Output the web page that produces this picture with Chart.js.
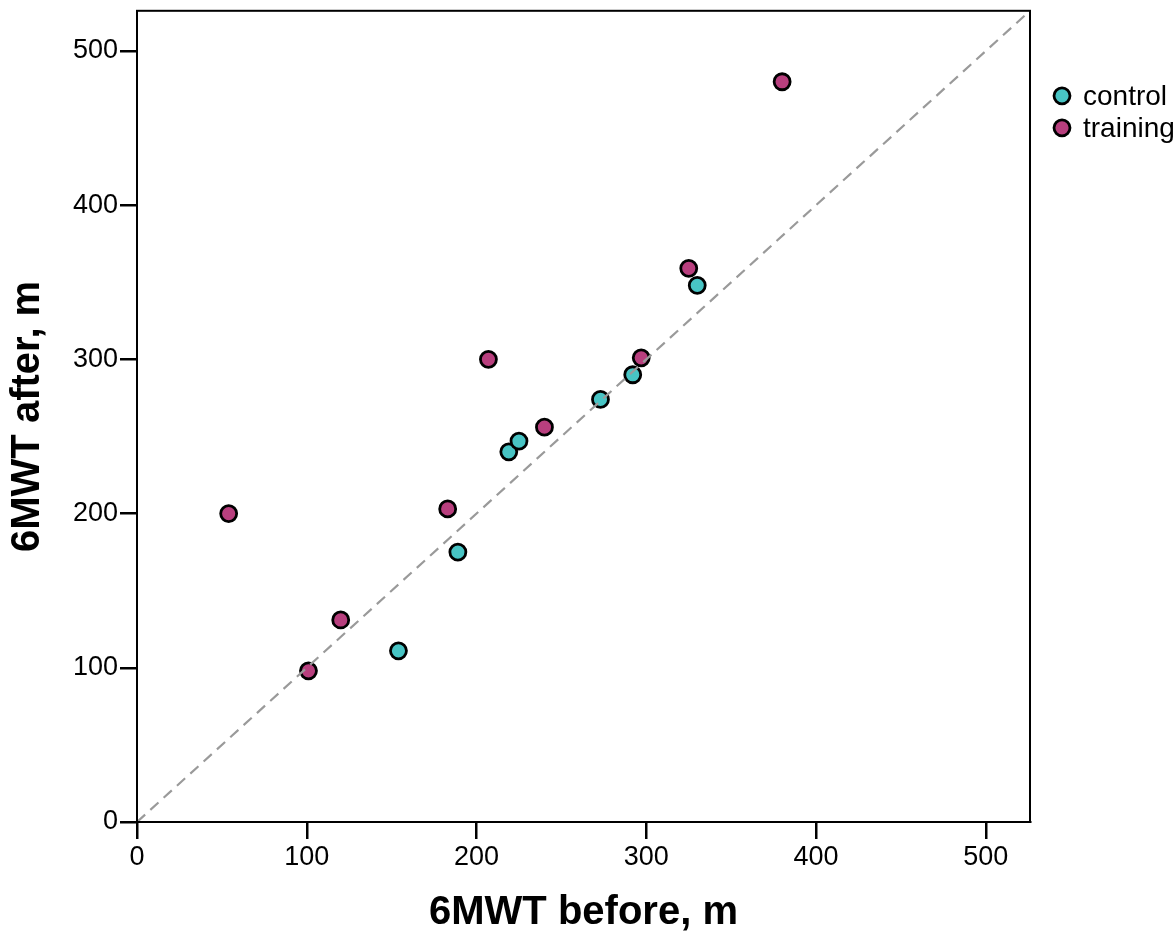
<!DOCTYPE html>
<html>
<head>
<meta charset="utf-8">
<script src="https://cdn.jsdelivr.net/npm/chart.js@4"></script>
<style>
  html, body { margin: 0; padding: 0; background: #fff; }
  #wrap { width: 1176px; height: 931px; }
</style>
</head>
<body>
<div id="wrap"><canvas id="c" width="1176" height="931"></canvas></div>
<script>
const controlBefore = [154, 189, 219, 225, 273, 292, 330];
const controlAfter  = [111, 175, 240, 247, 274, 290, 348];
const trainingBefore = [54, 101, 120, 183, 207, 240, 297, 325, 380];
const trainingAfter  = [200, 98, 131, 203, 300, 256, 301, 359, 480];
const identityLine = [0, 526];
const tickValues = [0, 100, 200, 300, 400, 500];
const seriesNames = ['control', 'training'];
const seriesColors = ['#48C4C4', '#B83F7E'];

const toPoints = (xs, ys) => xs.map((x, i) => ({ x: x, y: ys[i] }));
const FONT = "'Liberation Sans', Arial, sans-serif";

const frameAndLegend = {
  id: 'frameAndLegend',
  afterDatasetsDraw(chart) {
    const { ctx, chartArea: a } = chart;
    ctx.save();
    ctx.strokeStyle = '#000';
    ctx.lineWidth = 2;
    ctx.strokeRect(a.left, a.top, a.right - a.left, a.bottom - a.top);
    ctx.restore();
  },
  afterDraw(chart) {
    const { ctx, chartArea: a } = chart;
    ctx.save();
    ctx.font = '28px ' + FONT;
    ctx.textBaseline = 'middle';
    ctx.textAlign = 'left';
    chart.data.datasets.forEach((ds) => {
      if (ds.type === 'line') return;
      const idx = seriesNames.indexOf(ds.label);
      const y = a.top + 85 + idx * 32;
      const x = a.right + 32;
      ctx.beginPath();
      ctx.arc(x, y, 8, 0, Math.PI * 2);
      ctx.fillStyle = ds.backgroundColor;
      ctx.fill();
      ctx.lineWidth = 2.8;
      ctx.strokeStyle = '#000';
      ctx.stroke();
      ctx.fillStyle = '#000';
      ctx.fillText(ds.label, x + 21, y + 1);
    });
    ctx.restore();
  }
};

const axisCommon = (titleText, isY) => ({
  type: 'linear',
  min: identityLine[0],
  max: identityLine[1],
  afterBuildTicks(scale) {
    scale.ticks = tickValues.map(v => ({ value: v }));
  },
  grid: {
    display: true,
    drawOnChartArea: false,
    drawTicks: true,
    tickLength: 17,
    color: '#000',
    lineWidth: 2.5
  },
  border: { display: true, color: '#000', width: 2 },
  ticks: {
    color: '#000',
    font: { family: FONT, size: 27 },
    padding: 2,
    maxRotation: 0,
    autoSkip: false
  },
  title: {
    display: true,
    text: titleText,
    color: '#000',
    font: { family: FONT, size: 40, weight: 'bold', lineHeight: 1 },
    padding: isY ? { top: 8, bottom: 0 } : { top: 0, bottom: -2 }
  }
});

new Chart(document.getElementById('c'), {
  data: {
    datasets: [
      {
        type: 'line',
        label: 'identity',
        data: toPoints(identityLine, identityLine),
        borderColor: '#9a9a9a',
        borderWidth: 2.2,
        borderDash: [11, 7],
        pointRadius: 0,
        fill: false,
        order: 0
      },
      {
        type: 'scatter',
        label: seriesNames[0],
        data: toPoints(controlBefore, controlAfter),
        backgroundColor: seriesColors[0],
        borderColor: '#000',
        borderWidth: 2.8,
        pointRadius: 8,
        pointHoverRadius: 8,
        order: 1
      },
      {
        type: 'scatter',
        label: seriesNames[1],
        data: toPoints(trainingBefore, trainingAfter),
        backgroundColor: seriesColors[1],
        borderColor: '#000',
        borderWidth: 2.8,
        pointRadius: 8,
        pointHoverRadius: 8,
        order: 1
      }
    ]
  },
  options: {
    responsive: false,
    animation: false,
    devicePixelRatio: 1,
    layout: { padding: { top: 5, right: 146, left: 0, bottom: 0 } },
    plugins: {
      legend: { display: false },
      tooltip: { enabled: false }
    },
    scales: {
      x: Object.assign(axisCommon('6MWT before, m', false), {
        position: 'bottom',
        afterFit(scale) { scale.height = 109; scale.paddingLeft = 0; scale.paddingRight = 0; }
      }),
      y: Object.assign(axisCommon('6MWT after, m', true), {
        position: 'left',
        afterFit(scale) { scale.width = 137; scale.paddingTop = 0; scale.paddingBottom = 0; }
      })
    }
  },
  plugins: [frameAndLegend]
});
</script>
</body>
</html>
